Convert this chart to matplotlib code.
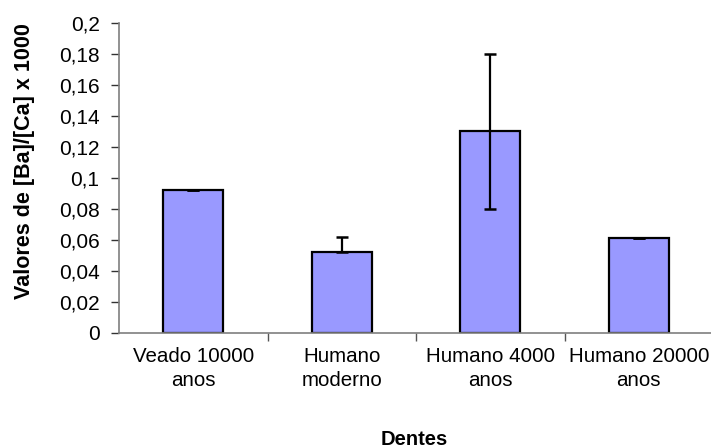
import matplotlib
matplotlib.use("Agg")
import matplotlib.pyplot as plt
from matplotlib.ticker import FuncFormatter, MultipleLocator, FixedLocator

plt.rcParams['font.family'] = ['Liberation Sans', 'DejaVu Sans']

dentes = ['Veado 10000\nanos', 'Humano\nmoderno', 'Humano 4000\nanos', 'Humano 20000\nanos']
valores = [0.092, 0.052, 0.130, 0.061]
erro_inf = [0.0, 0.0, 0.05, 0.0]
erro_sup = [0.0004, 0.0095, 0.05, 0.0004]

fig = plt.figure(figsize=(7.11, 4.48), dpi=100)
ax = fig.add_axes([119 / 711, 115.3 / 448, 594 / 711, 309.7 / 448])

x = range(len(dentes))
ax.bar(x, valores, width=0.404, color='#9999FF', edgecolor='black', linewidth=1.6, zorder=2)
ax.errorbar(x, valores, yerr=[erro_inf, erro_sup], fmt='none', ecolor='black',
            elinewidth=1.6, capsize=4.5, capthick=1.8, zorder=3)

ax.set_xlim(-0.5, len(dentes) - 0.5)
ax.set_ylim(0, 0.2)
ax.yaxis.set_major_locator(MultipleLocator(0.02))
ax.yaxis.set_major_formatter(FuncFormatter(lambda v, p: f"{round(v, 2):g}".replace('.', ',')))

# category labels centred, separator ticks between categories
ax.set_xticks(list(x))
ax.set_xticklabels(dentes, fontsize=14.8, linespacing=1.35)
ax.tick_params(axis='x', which='major', length=0, pad=10)
ax.xaxis.set_minor_locator(FixedLocator([0.5, 1.5, 2.5]))
ax.tick_params(axis='x', which='minor', length=6, width=1, color='#555555', direction='out')
ax.tick_params(axis='y', length=6, width=1, color='#333333', labelsize=15, pad=8)

for s in ['top', 'right']:
    ax.spines[s].set_visible(False)
for s in ['left', 'bottom']:
    ax.spines[s].set_color('#7f7f7f')
    ax.spines[s].set_linewidth(1.2)

fig.text(25 / 711, 1 - 161 / 448, 'Valores de [Ba]/[Ca] x 1000', rotation=90,
         fontsize=15.5, fontweight='bold', ha='center', va='center')
fig.text(414 / 711, 1 - 439 / 448, 'Dentes', fontsize=14.5, fontweight='bold',
         ha='center', va='center')

fig.savefig('out.png', dpi=100)
